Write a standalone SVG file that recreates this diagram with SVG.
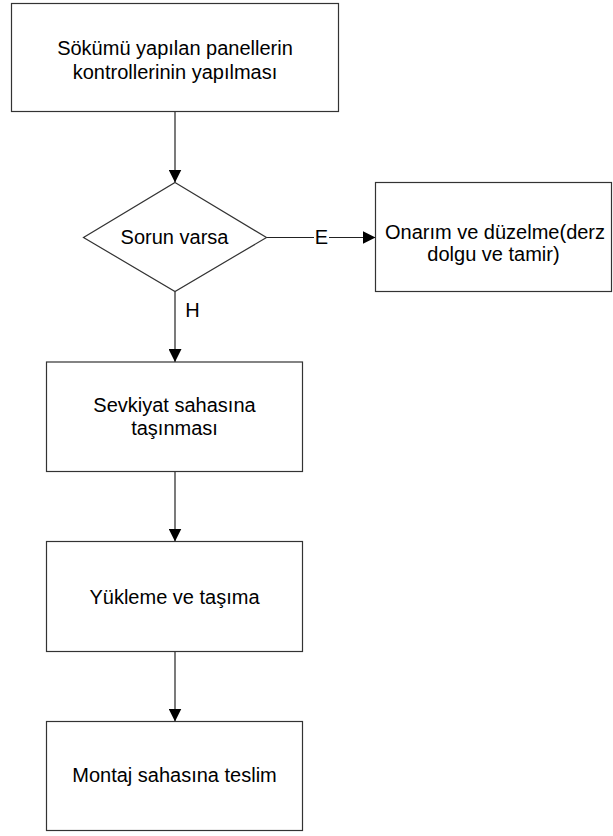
<svg xmlns="http://www.w3.org/2000/svg" width="613" height="836" viewBox="0 0 613 836">
<style>
.box{fill:#fff;stroke:#333;stroke-width:1.2}
.t{font-family:"Liberation Sans",Arial,sans-serif;font-size:20px;fill:#000;text-anchor:middle}
.c{stroke:#222;stroke-width:1.2;fill:none}
</style>
<defs>
<marker id="ah" markerWidth="13" markerHeight="13" refX="13" refY="6.5" orient="auto" markerUnits="userSpaceOnUse">
<path d="M0,0 L13,6.5 L0,13 Z" fill="#000"/>
</marker>
</defs>
<rect width="613" height="836" fill="#fff"/>
<g id="connectors">
<line class="c" x1="175" y1="111.5" x2="175" y2="182.5" marker-end="url(#ah)"/>
<line class="c" x1="266.5" y1="237.5" x2="375.5" y2="237.5" marker-end="url(#ah)"/>
<rect x="314" y="228" width="15" height="18" fill="#fff"/>
<text class="t" x="321.5" y="244">E</text>
<line class="c" x1="175" y1="291.5" x2="175" y2="362" marker-end="url(#ah)"/>
<text class="t" x="192.5" y="316.5">H</text>
<line class="c" x1="175" y1="471.5" x2="175" y2="541.5" marker-end="url(#ah)"/>
<line class="c" x1="175" y1="651.5" x2="175" y2="721.5" marker-end="url(#ah)"/>
</g>
<g id="n1">
<rect class="box" x="11.5" y="3.5" width="327" height="108"/>
<text class="t" x="175" y="55">Sökümü yapılan panellerin</text>
<text class="t" x="175" y="79">kontrollerinin yapılması</text>
</g>
<g id="n2">
<polygon class="box" points="175,182.5 266.5,237.5 175,291.5 83.5,237.5"/>
<text class="t" x="174.5" y="243.5">Sorun varsa</text>
</g>
<g id="n3">
<rect class="box" x="375.5" y="182.5" width="236" height="109"/>
<text class="t" x="495" y="238.5">Onarım ve düzelme(derz</text>
<text class="t" x="493.5" y="260.5">dolgu ve tamir)</text>
</g>
<g id="n4">
<rect class="box" x="46.5" y="362" width="256" height="109.5"/>
<text class="t" x="174.5" y="411.5">Sevkiyat sahasına</text>
<text class="t" x="174.5" y="435">taşınması</text>
</g>
<g id="n5">
<rect class="box" x="46.5" y="541.5" width="256" height="110"/>
<text class="t" x="174.5" y="603.5">Yükleme ve taşıma</text>
</g>
<g id="n6">
<rect class="box" x="46.5" y="721.5" width="256" height="109"/>
<text class="t" x="174.5" y="782">Montaj sahasına teslim</text>
</g>
</svg>
